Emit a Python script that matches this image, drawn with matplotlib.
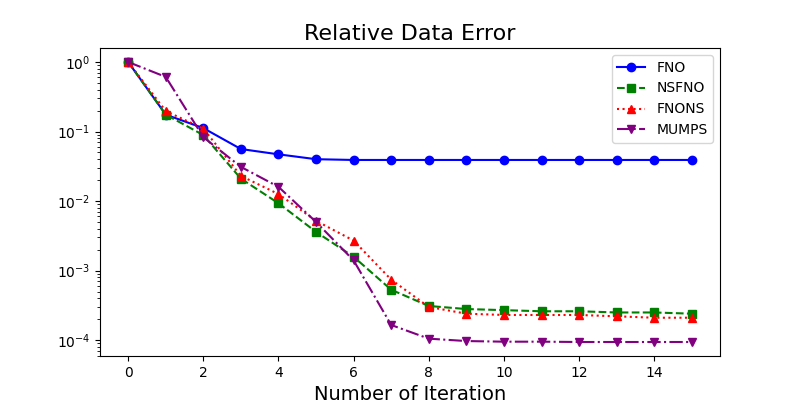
import matplotlib
matplotlib.use("Agg")
import matplotlib.pyplot as plt

iterations = list(range(16))
fno = [1.0, 0.175, 0.112, 0.056, 0.047, 0.040, 0.039, 0.039, 0.039, 0.039, 0.039, 0.039, 0.039, 0.039, 0.039, 0.039]
nsfno = [1.0, 0.175, 0.089, 0.021, 0.0093, 0.0036, 0.00158, 0.00053, 0.00031, 0.00028, 0.00027, 0.00026, 0.00026, 0.00025, 0.00025, 0.00024]
fnons = [1.0, 0.197, 0.11, 0.023, 0.0126, 0.0052, 0.0027, 0.00074, 0.00030, 0.00024, 0.00023, 0.00023, 0.00023, 0.00022, 0.00021, 0.00021]
mumps = [1.0, 0.61, 0.083, 0.031, 0.016, 0.0050, 0.0014, 0.000165, 0.000105, 0.000097, 0.000095, 0.000095, 0.000094, 0.000094, 0.000094, 0.000094]

fig, ax = plt.subplots(figsize=(8, 4), dpi=100)
ax.plot(iterations, fno, color="blue", linestyle="-", marker="o", label="FNO")
ax.plot(iterations, nsfno, color="green", linestyle="--", marker="s", label="NSFNO")
ax.plot(iterations, fnons, color="red", linestyle=":", marker="^", label="FNONS")
ax.plot(iterations, mumps, color="purple", linestyle="-.", marker="v", label="MUMPS")
ax.set_yscale("log")
ax.set_title("Relative Data Error", fontsize=16)
ax.set_xlabel("Number of Iteration", fontsize=14)
ax.legend(loc="upper right")
fig.savefig("out.png", dpi=100)
